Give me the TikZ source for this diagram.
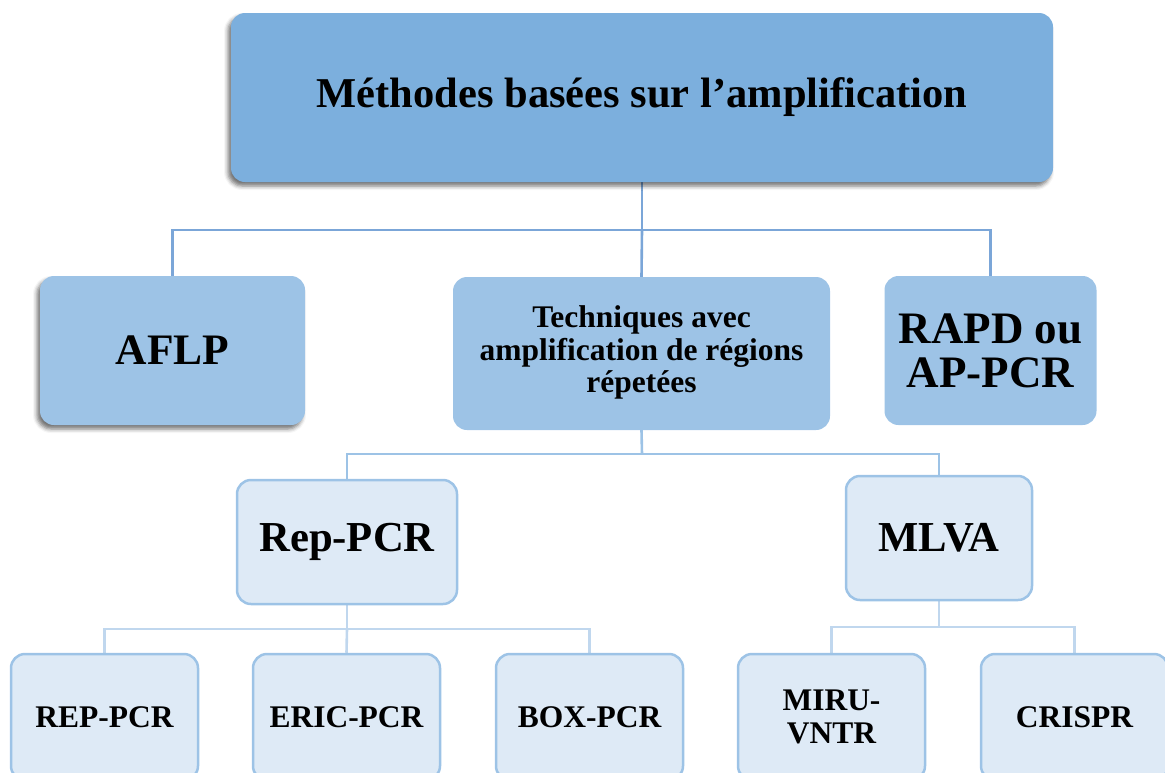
\documentclass[tikz,border=0pt]{standalone}
\usepackage{fontspec}
\setmainfont{Liberation Serif}
\usetikzlibrary{shadows.blur}
\pgfdeclarelayer{links}
\pgfsetlayers{links,main}
\definecolor{topfill}{HTML}{7CAFDD}
\definecolor{midfill}{HTML}{9DC3E6}
\definecolor{lightfill}{HTML}{DEEAF6}
\definecolor{lightline}{HTML}{9DC3E6}
\definecolor{linkA}{HTML}{7BA6D8}
\definecolor{linkB}{HTML}{9DC3E6}
\definecolor{linkC}{HTML}{C0D7EE}
\newcommand{\lowered}[2]{\raisebox{-#1}{\begin{tabular}{@{}c@{}}#2\end{tabular}}}
\tikzset{
  x=1pt, y=-1pt,
  box/.style={rounded corners=14pt, align=center, inner sep=0pt, font=\bfseries},
  darkbox/.style={box, fill=topfill},
  midbox/.style={box, fill=midfill},
  lightbox/.style={box, fill=lightfill, draw=lightline, line width=2.5pt},
  shade/.style={blur shadow={shadow xshift=-3pt, shadow yshift=-4pt, shadow blur radius=4pt, shadow opacity=55}},
  linkone/.style={draw=linkA, line width=2.6pt},
  linktwo/.style={draw=linkB, line width=2.6pt},
  linkthree/.style={draw=linkC, line width=2.6pt},
}
\begin{document}
\begin{tikzpicture}
\useasboundingbox (0,0) rectangle (1165,772);
\clip (0,0) rectangle (1165,772);

% junction points of the tree
\coordinate (j1) at (642,230);
\coordinate (j2) at (642,454);
\coordinate (j3) at (347,629);
\coordinate (j4) at (939,627);

% level 1
\node[darkbox, shade, minimum width=822pt, minimum height=169pt, font=\bfseries\fontsize{42.5}{48}\selectfont]
  (top) at (642,97.5) {\lowered{3pt}{Méthodes basées sur l’amplification}};

% level 2
\node[midbox, shade, minimum width=265pt, minimum height=149pt, font=\bfseries\fontsize{43.5}{50}\selectfont]
  (aflp) at (172.5,350.5) {AFLP};
\node[midbox, minimum width=377pt, minimum height=153pt, font=\bfseries\fontsize{31.5}{32.5}\selectfont]
  (tech) at (641.5,353.5) {\lowered{4pt}{Techniques avec\\amplification de régions\\répetées}};
\node[midbox, minimum width=212pt, minimum height=149pt, font=\bfseries\fontsize{45}{44}\selectfont]
  (rapd) at (990.5,350.5) {RAPD ou\\AP-PCR};

% level 3
\node[lightbox, minimum width=220pt, minimum height=124pt, font=\bfseries\fontsize{42.7}{44}\selectfont]
  (rep) at (347,542) {Rep-PCR};
\node[lightbox, minimum width=186pt, minimum height=124pt, font=\bfseries\fontsize{42.7}{44}\selectfont]
  (mlva) at (939,538) {MLVA};

% level 4
\tikzset{leaf/.style={lightbox, minimum width=187pt, minimum height=126pt, font=\bfseries\fontsize{31.5}{33}\selectfont}}
\node[leaf] (r1) at (104.5,717) {REP-PCR};
\node[leaf] (r2) at (346.5,717) {ERIC-PCR};
\node[leaf] (r3) at (589.5,717) {BOX-PCR};
\node[leaf] (m1) at (831.5,717) {MIRU-\\VNTR};
\node[leaf] (m2) at (1074.5,717) {CRISPR};

% links, kept beneath the boxes
\begin{pgfonlayer}{links}
\draw[linkone] (top.south) -- (j1);
\draw[linkone] (j1) -| (aflp.north);
\draw[linkone] (j1) -| (rapd.north);
\draw[linkone] (j1) -- (tech.north);

\draw[linktwo] (tech.south) -- (j2);
\draw[linktwo] (j2) -| (rep.north);
\draw[linktwo] (j2) -| (mlva.north);

\draw[linkthree] (rep.south) -- (j3);
\draw[linkthree] (j3) -| (r1.north);
\draw[linkthree] (j3) -| (r3.north);
\draw[linkthree] (j3) -- (r2.north);

\draw[linkthree] (mlva.south) -- (j4);
\draw[linkthree] (j4) -| (m1.north);
\draw[linkthree] (j4) -| (m2.north);
\end{pgfonlayer}
\end{tikzpicture}
\end{document}
